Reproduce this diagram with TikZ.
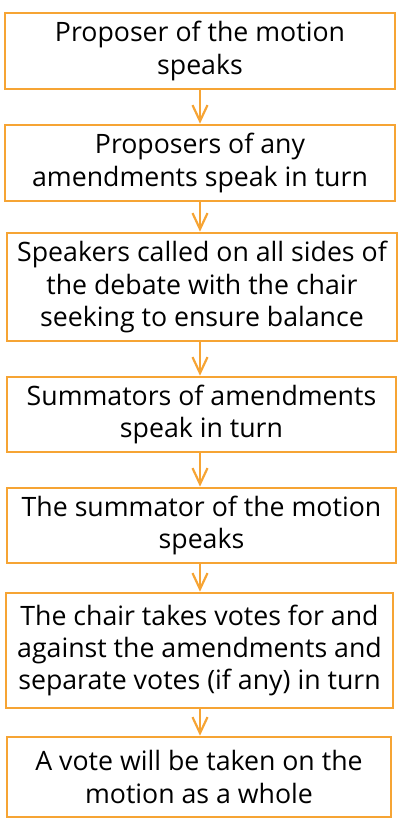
\documentclass[tikz,border=0pt]{standalone}
\usepackage{fontspec}
\setmainfont{Open Sans}
\usetikzlibrary{arrows.meta}
\definecolor{flowOrange}{RGB}{246,164,52}

\begin{document}
\begin{tikzpicture}[
    x=1bp, y=-1bp,
    % Step box style
    stepbox/.style={
        rectangle,
        draw=flowOrange,
        line width=2.6bp,
        fill=white,
        align=center,
        inner sep=0pt,
        font=\fontsize{26.8}{32.6}\selectfont
    },
    % Arrow style
    arrow/.style={
        -{Straight Barb[length=16bp, width=15bp]},
        line width=2.2bp,
        draw=flowOrange
    }
]
\useasboundingbox (0,0) rectangle (399,819);

% === Steps of the debate ===
\node[stepbox, minimum width=390bp, minimum height=76bp] (propose) at (200, 51)
    {Proposer of the motion\\speaks};
\node[stepbox, minimum width=390bp, minimum height=76bp] (amend) at (200, 163)
    {Proposers of any\\amendments speak in turn};
\node[stepbox, minimum width=390bp, minimum height=108bp] (speakers) at (202, 287)
    {Speakers called on all sides of\\the debate with the chair\\seeking to ensure balance};
\node[stepbox, minimum width=389bp, minimum height=75bp] (sumamend) at (201.5, 414.5)
    {Summators of amendments\\speak in turn};
\node[stepbox, minimum width=389bp, minimum height=75bp] (summotion) at (201.5, 525.5)
    {The summator of the motion\\speaks};
\node[stepbox, minimum width=387bp, minimum height=115bp] (votes) at (199.5, 650.5)
    {The chair takes votes for and\\against the amendments and\\separate votes (if any) in turn};
\node[stepbox, minimum width=384bp, minimum height=80bp] (final) at (199, 777)
    {A vote will be taken on the\\motion as a whole};

% === Arrows between steps ===
\draw[arrow] (propose.south -| 200,0) -- (amend.north -| 200,0);
\draw[arrow] (amend.south -| 200,0) -- (speakers.north -| 200,0);
\draw[arrow] (speakers.south -| 200,0) -- (sumamend.north -| 200,0);
\draw[arrow] (sumamend.south -| 200,0) -- (summotion.north -| 200,0);
\draw[arrow] (summotion.south -| 200,0) -- (votes.north -| 200,0);
\draw[arrow] (votes.south -| 200,0) -- (final.north -| 200,0);

\end{tikzpicture}
\end{document}
